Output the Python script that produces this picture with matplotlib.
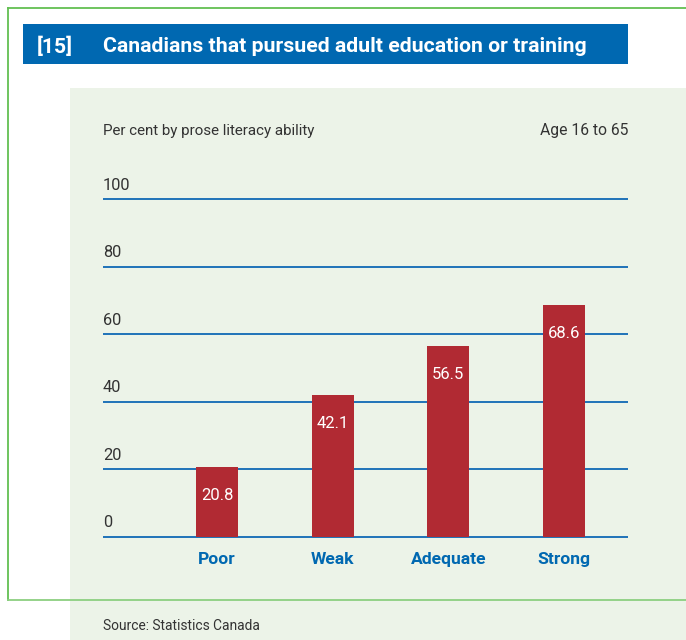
import matplotlib
matplotlib.use("Agg")
import matplotlib.pyplot as plt
from matplotlib.patches import Rectangle
from matplotlib.lines import Line2D

# data
categories = ["Poor", "Weak", "Adequate", "Strong"]
values = [20.8, 42.1, 56.5, 68.6]
yticks = [0, 20, 40, 60, 80, 100]

fig_num = "[15]"
title = "Canadians that pursued adult education or training"
subtitle_left = "Per cent by prose literacy ability"
subtitle_right = "Age 16 to 65"
source = "Source: Statistics Canada"

plt.rcParams["font.family"] = ["Roboto", "DejaVu Sans"]

BLUE = "#0068b1"
LINE_BLUE = "#1f72b8"
RED = "#b12a33"
GREEN = "#62bf52"
PANEL = "#ecf3e8"
GREY = "#333333"

W, H = 686, 640
fig = plt.figure(figsize=(W / 100, H / 100), dpi=100)
fig.patch.set_facecolor("white")


def fx(px):
    return px / W


def fy(py):
    return 1 - py / H


# light green panel
fig.add_artist(Rectangle((fx(70), fy(640)), fx(686) - fx(70), fy(88) - fy(640),
                         transform=fig.transFigure, facecolor=PANEL, edgecolor="none", zorder=0))
# green frame (top, left, bottom)
fig.add_artist(Line2D([fx(8), fx(686)], [fy(8), fy(8)], transform=fig.transFigure,
                      color=GREEN, lw=1.3, zorder=1))
fig.add_artist(Line2D([fx(8), fx(8)], [fy(8), fy(600)], transform=fig.transFigure,
                      color=GREEN, lw=1.3, zorder=1))
fig.add_artist(Line2D([fx(8), fx(686)], [fy(600), fy(600)], transform=fig.transFigure,
                      color="#8ccf80", lw=1.3, zorder=1))
# title bar
fig.add_artist(Rectangle((fx(23), fy(64)), fx(628) - fx(23), fy(24) - fy(64),
                         transform=fig.transFigure, facecolor=BLUE, edgecolor="none", zorder=1))
fig.text(fx(37), fy(46.5), fig_num, color="white", fontsize=15.3, fontweight="bold",
         va="center", ha="left")
fig.text(fx(103), fy(46.5), title, color="white", fontsize=15.3, fontweight="bold",
         va="center", ha="left")

fig.text(fx(103), fy(131), subtitle_left, color=GREY, fontsize=10.9, va="center", ha="left")
fig.text(fx(628), fy(131), subtitle_right, color=GREY, fontsize=11.3, va="center", ha="right")
fig.text(fx(103), fy(626), source, color=GREY, fontsize=9.9, va="center", ha="left")

# axes: 0 -> y=537px, 100 -> y=199.3px
px_per_unit = (537 - 199.3) / 100
ax_top, ax_bot = 180, 580
ax = fig.add_axes([fx(103), fy(ax_bot), fx(628) - fx(103), fy(ax_top) - fy(ax_bot)])
ax.set_facecolor("none")
ax.set_ylim((537 - ax_bot) / px_per_unit, (537 - ax_top) / px_per_unit)
xs = list(range(len(categories)))
step = (564 - 217) / 3
x0 = -(217 - 103) / step
x1 = 3 + (628 - 564) / step
ax.set_xlim(x0, x1)
ax.axis("off")

ax.hlines(yticks, x0, x1, color=LINE_BLUE, lw=1.4, zorder=1)
for t in yticks:
    ax.text(x0, t + 2.0, str(t), color=GREY, fontsize=11.8, ha="left", va="bottom")

ax.bar(xs, values, width=42 / step, color=RED, zorder=2)
for x, v in zip(xs, values):
    ax.text(x, v - 8.4, f"{v:.1f}", color="white", fontsize=12, ha="center", va="center", zorder=3)

for x, c in zip(xs, categories):
    ax.text(x, -6.6, c, color=BLUE, fontsize=12.6, fontweight="bold", ha="center", va="center")

fig.savefig("out.png", dpi=100)
